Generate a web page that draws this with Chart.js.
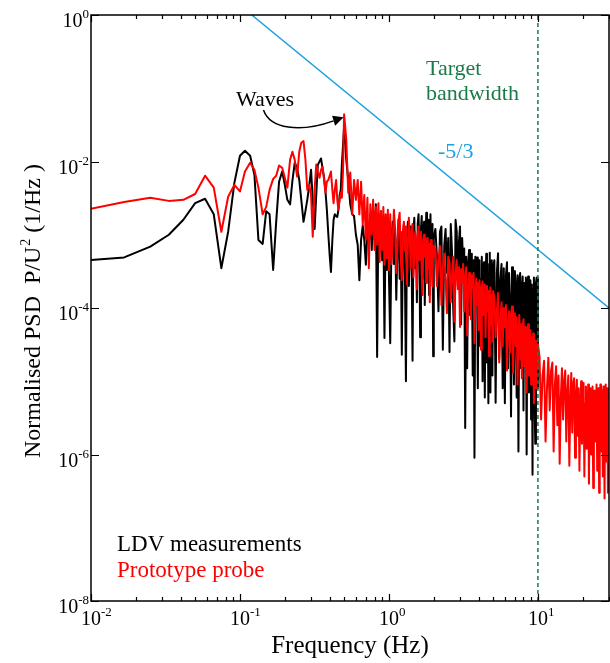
<!DOCTYPE html>
<html>
<head>
<meta charset="utf-8">
<title>Normalised PSD</title>
<script src="https://cdn.jsdelivr.net/npm/chart.js@4.4.0/dist/chart.umd.min.js"></script>
<style>
    html, body { margin: 0; padding: 0; background: #fff; }
    #wrap { width: 610px; height: 663px; }
</style>
</head>
<body>
<div id="wrap"><canvas id="psdChart" width="610" height="663"></canvas></div>
<script>
// Frequencies (Hz) shared by both spectra
const freqHz = [
    0.00833, 0.0167, 0.025, 0.0333, 0.0417, 0.05, 0.0583, 0.0667, 0.075, 0.0833,
    0.0917, 0.1, 0.108, 0.117, 0.125, 0.133, 0.142, 0.15, 0.158, 0.167,
    0.175, 0.183, 0.192, 0.2, 0.208, 0.217, 0.225, 0.233, 0.242, 0.25,
    0.258, 0.267, 0.275, 0.283, 0.292, 0.3, 0.308, 0.317, 0.325, 0.333,
    0.342, 0.35, 0.358, 0.367, 0.375, 0.383, 0.392, 0.4, 0.408, 0.417,
    0.425, 0.433, 0.442, 0.45, 0.458, 0.467, 0.475, 0.483, 0.492, 0.5,
    0.517, 0.533, 0.55, 0.567, 0.583, 0.6, 0.617, 0.633, 0.65, 0.667,
    0.683, 0.7, 0.717, 0.733, 0.75, 0.767, 0.783, 0.8, 0.817, 0.833,
    0.85, 0.867, 0.883, 0.9, 0.917, 0.933, 0.95, 0.967, 0.983, 1.0,
    1.02, 1.04, 1.06, 1.08, 1.1, 1.12, 1.14, 1.16, 1.18, 1.2,
    1.22, 1.24, 1.26, 1.28, 1.3, 1.32, 1.34, 1.36, 1.38, 1.4,
    1.42, 1.44, 1.46, 1.48, 1.5, 1.52, 1.54, 1.56, 1.58, 1.6,
    1.62, 1.64, 1.66, 1.68, 1.7, 1.72, 1.74, 1.76, 1.78, 1.8,
    1.82, 1.84, 1.86, 1.88, 1.9, 1.92, 1.94, 1.96, 1.98, 2.0,
    2.05, 2.1, 2.15, 2.2, 2.25, 2.3, 2.35, 2.4, 2.45, 2.5,
    2.55, 2.6, 2.65, 2.7, 2.75, 2.8, 2.85, 2.9, 2.95, 3.0,
    3.05, 3.1, 3.15, 3.2, 3.25, 3.3, 3.35, 3.4, 3.45, 3.5,
    3.55, 3.6, 3.65, 3.7, 3.75, 3.8, 3.85, 3.9, 3.95, 4.0,
    4.05, 4.1, 4.15, 4.2, 4.25, 4.3, 4.35, 4.4, 4.45, 4.5,
    4.55, 4.6, 4.65, 4.7, 4.75, 4.8, 4.85, 4.9, 4.95, 5.0,
    5.1, 5.2, 5.3, 5.4, 5.5, 5.6, 5.7, 5.8, 5.9, 6.0,
    6.1, 6.2, 6.3, 6.4, 6.5, 6.6, 6.7, 6.8, 6.9, 7.0,
    7.1, 7.2, 7.3, 7.4, 7.5, 7.6, 7.7, 7.8, 7.9, 8.0,
    8.1, 8.2, 8.3, 8.4, 8.5, 8.6, 8.7, 8.8, 8.9, 9.0,
    9.1, 9.2, 9.3, 9.4, 9.5, 9.6, 9.7, 9.8, 9.9, 10.0,
    10.25, 10.5, 10.75, 11, 11.25, 11.5, 11.75, 12, 12.25, 12.5,
    12.75, 13, 13.25, 13.5, 13.75, 14, 14.25, 14.5, 14.75, 15,
    15.25, 15.5, 15.75, 16, 16.25, 16.5, 16.75, 17, 17.25, 17.5,
    17.75, 18, 18.25, 18.5, 18.75, 19, 19.25, 19.5, 19.75, 20,
    20.25, 20.5, 20.75, 21, 21.25, 21.5, 21.75, 22, 22.25, 22.5,
    22.75, 23, 23.25, 23.5, 23.75, 24, 24.25, 24.5, 24.75, 25,
    25.25, 25.5, 25.75, 26, 26.25, 26.5, 26.75, 27, 27.25, 27.5,
    27.75, 28, 28.25, 28.5, 28.75, 29, 29.25, 29.5, 29.75, 30
];

// LDV measurements (stops at 10 Hz)
const ldvPsd = [
    4.4e-4, 4.9e-4, 6.9e-4, 1.0e-3, 1.6e-3, 2.7e-3, 3.1e-3, 1.9e-3, 3.5e-4, 1.1e-3,
    5.1e-3, 1.2e-2, 1.4e-2, 1.2e-2, 6.6e-3, 8.5e-4, 7.5e-4, 2.1e-3, 1.9e-3, 3.3e-4,
    1.5e-3, 5.3e-3, 7.3e-3, 4.8e-3, 3.0e-3, 2.6e-3, 5.5e-3, 9.6e-3, 8.2e-3, 5.6e-3,
    3.0e-3, 1.5e-3, 2.1e-3, 3.0e-3, 4.8e-3, 7.7e-3, 3.0e-3, 1.2e-3, 3.5e-3, 9.0e-3,
    1.0e-2, 1.1e-2, 8.2e-3, 6.0e-3, 3.9e-3, 2.2e-3, 1.0e-3, 5.3e-4, 3.1e-4, 8.5e-4,
    1.6e-3, 1.9e-3, 1.8e-3, 1.75e-3, 2.2e-3, 3.5e-3, 4.1e-3, 9.0e-3, 1.7e-2, 3.0e-2,
    1.06e-2, 5.6e-3, 2.6e-3, 1.9e-3, 1.8e-3, 1.0e-3, 7.3e-4, 2.4e-4, 8.5e-4, 1.33e-3,
    8.5e-4, 3.9e-4, 1.17e-3, 7.3e-4, 1.9e-3, 6.2e-4, 2.2e-3, 8.5e-4, 2.6e-3, 2.15e-5,
    1.9e-3, 6.2e-4, 2.1e-3, 4.5e-4, 1.6e-3, 3.9e-5, 1.37e-3, 3.3e-4, 1.6e-3, 2.8e-4,
    3.3e-5, 9.0e-4, 1.5e-3, 4.0e-4, 1.2e-3, 1.3e-4, 7.0e-4, 1.6e-3, 2.5e-4, 1.1e-3,
    2.3e-5, 8.0e-4, 1.4e-3, 3.0e-4, 1.0e-5, 9.0e-4, 1.5e-3, 2.0e-4, 6.0e-4, 1.3e-3,
    4.5e-4, 1.9e-5, 1.1e-3, 1.7e-3, 3.5e-4, 8.0e-4, 1.2e-4, 1.4e-3, 1.9e-3, 6.0e-4,
    4.0e-5, 1.2e-3, 1.8e-3, 2.5e-4, 9.0e-4, 1.5e-3, 1.1e-4, 7.0e-4, 2.0e-3, 4.0e-4,
    1.3e-3, 1.6e-3, 1.5e-4, 8.0e-4, 1.9e-3, 3.0e-4, 1.1e-3, 1.4e-3, 2.2e-5, 9.0e-4,
    1.2e-3, 5.0e-4, 9.0e-5, 1.1e-3, 1.3e-3, 2.7e-5, 7.0e-4, 1.2e-3, 3.0e-4, 9.0e-4,
    2.5e-5, 1.4e-3, 6.0e-4, 1.0e-4, 3.5e-5, 1.6e-3, 1.1e-3, 2.0e-4, 8.0e-4, 1.3e-3,
    6.0e-5, 9.0e-4, 4.0e-4, 6.5e-4, 2.3e-6, 5.0e-4, 1.5e-5, 4.0e-4, 6.2e-4, 8.0e-5,
    3.0e-4, 5.5e-4, 1.2e-5, 4.5e-4, 9.0e-7, 5.0e-4, 2.0e-4, 4.9e-4, 8.0e-6, 3.5e-4,
    4.5e-4, 3.0e-5, 2.5e-4, 5.0e-4, 1.0e-5, 3.8e-4, 4.2e-4, 6.0e-6, 2.0e-4, 5.5e-4,
    1.8e-5, 4.0e-4, 5.0e-6, 3.0e-4, 5.7e-4, 7.0e-6, 2.5e-4, 4.5e-4, 1.2e-5, 3.5e-4,
    4.5e-4, 5.1e-6, 3.0e-4, 5.6e-4, 2.0e-5, 2.5e-4, 4.0e-4, 8.0e-6, 3.5e-4, 5.0e-6,
    2.8e-4, 4.2e-4, 1.5e-5, 3.0e-4, 1.2e-4, 3.3e-6, 3.6e-4, 2.2e-4, 9.0e-6, 3.2e-4,
    2.0e-4, 6.0e-6, 2.8e-4, 1.1e-6, 2.4e-4, 3.0e-4, 1.5e-5, 1.8e-4, 2.7e-4, 4.0e-6,
    2.2e-4, 1.0e-4, 2.6e-4, 1.0e-6, 2.0e-4, 2.7e-4, 7.0e-6, 1.5e-4, 2.4e-4, 3.0e-6,
    2.1e-4, 5.3e-7, 1.8e-4, 2.6e-4, 5.0e-6, 1.4e-6, 2.2e-4, 2.6e-4, 8.0e-6, 2.6e-4
];

// Prototype probe
const probePsd = [
    2.1e-3, 2.8e-3, 3.2e-3, 2.9e-3, 3.0e-3, 3.6e-3, 6.4e-3, 4.4e-3, 1.1e-3, 3.3e-3,
    4.8e-3, 3.9e-3, 7.3e-3, 9.6e-3, 7.7e-3, 4.4e-3, 1.9e-3, 2.4e-3, 4.1e-3, 5.8e-3,
    6.4e-3, 8.8e-3, 8.2e-3, 6.0e-3, 4.4e-3, 1.06e-2, 1.36e-2, 1.06e-2, 6.2e-3, 1.36e-2,
    1.8e-2, 1.9e-2, 1.06e-2, 4.1e-3, 4.8e-3, 3.5e-3, 9.4e-4, 4.1e-3, 9.1e-3, 7.3e-3,
    6.0e-3, 7.7e-3, 8.5e-3, 5.6e-3, 3.75e-3, 5.3e-3, 5.6e-3, 6.4e-3, 7.3e-3, 4.1e-3,
    2.7e-3, 4.1e-3, 5.6e-3, 3.0e-3, 2.2e-3, 3.0e-3, 3.75e-3, 3.2e-3, 7.7e-3, 4.4e-2,
    2.0e-2, 3.75e-3, 7.1e-3, 1.9e-3, 5.6e-3, 3.0e-3, 5.6e-3, 1.9e-3, 5.3e-3, 1.37e-3,
    3.5e-3, 8.5e-4, 3.2e-3, 3.5e-4, 2.6e-3, 1.0e-3, 3.0e-3, 6.2e-4, 2.4e-3, 7.3e-4,
    2.7e-3, 4.25e-4, 2.1e-3, 6.2e-4, 2.4e-3, 3.9e-4, 1.9e-3, 4.8e-4, 2.2e-3, 3.3e-4,
    1.9e-3, 4.0e-4, 9.0e-4, 2.2e-3, 1.2e-3, 3.0e-4, 6.5e-4, 1.6e-3, 2.0e-3, 5.0e-4,
    2.4e-4, 1.1e-3, 1.5e-3, 6.0e-4, 1.3e-3, 2.1e-4, 7.5e-4, 1.7e-3, 9.0e-4, 3.5e-4,
    1.2e-3, 1.4e-3, 2.6e-4, 5.5e-4, 1.1e-3, 8.0e-4, 1.8e-4, 9.5e-4, 1.3e-3, 4.5e-4,
    7.0e-4, 1.1e-3, 3.0e-4, 1.5e-4, 8.5e-4, 1.0e-3, 5.0e-4, 9.0e-4, 2.2e-4, 6.5e-4,
    9.0e-4, 3.5e-4, 7.5e-4, 1.2e-4, 5.5e-4, 8.5e-4, 4.0e-4, 2.0e-4, 7.0e-4, 5.0e-4,
    6.5e-4, 2.0e-4, 4.5e-4, 7.0e-4, 1.1e-4, 3.5e-4, 5.5e-4, 2.5e-4, 8.5e-5, 5.0e-4,
    4.2e-4, 1.2e-4, 2.8e-4, 5.0e-4, 6.5e-5, 3.0e-4, 4.5e-4, 1.8e-4, 3.6e-4, 5.5e-5,
    3.4e-4, 2.2e-4, 4.0e-4, 9.0e-5, 2.6e-4, 3.6e-4, 4.2e-5, 1.6e-4, 3.0e-4, 2.0e-4,
    7.0e-5, 2.8e-4, 1.9e-4, 3.0e-4, 3.3e-5, 1.4e-4, 2.5e-4, 1.1e-4, 2.2e-4, 5.0e-5,
    2.4e-4, 1.5e-4, 2.7e-5, 1.9e-4, 2.3e-4, 8.0e-5, 1.6e-4, 2.1e-4, 4.0e-5, 1.3e-4,
    2.0e-4, 9.0e-5, 1.7e-4, 2.2e-5, 1.2e-4, 1.9e-4, 6.0e-5, 1.5e-4, 3.5e-5, 1.7e-4,
    1.4e-4, 4.0e-5, 9.0e-5, 1.6e-4, 1.8e-5, 7.0e-5, 1.2e-4, 3.0e-5, 1.0e-4, 5.5e-5,
    1.1e-4, 1.4e-5, 6.0e-5, 9.0e-5, 2.5e-5, 8.0e-5, 1.05e-4, 1.3e-5, 5.0e-5, 8.5e-5,
    3.0e-5, 7.5e-5, 9.0e-6, 4.5e-5, 8.0e-5, 2.0e-5, 6.0e-5, 1.1e-5, 5.5e-5, 7.0e-5,
    1.6e-5, 5.5e-5, 3.5e-5, 7.0e-6, 4.5e-5, 6.0e-5, 1.2e-5, 3.0e-5, 5.0e-5, 9.0e-6,
    4.0e-5, 2.2e-5, 4.5e-5, 5.0e-6, 2.8e-5, 3.6e-5, 8.0e-6, 3.0e-5, 1.5e-5, 3.2e-5,
    2.2e-5, 3.0e-6, 1.2e-5, 1.9e-5, 1.5e-6, 8.0e-6, 2.1e-5, 4.0e-6, 1.4e-5, 1.8e-5,
    1.1e-6, 9.0e-6, 1.6e-5, 2.5e-6, 1.2e-5, 7.5e-7, 6.0e-6, 1.5e-5, 3.0e-6, 1.0e-5,
    1.4e-5, 1.5e-6, 7.0e-6, 1.2e-5, 7.0e-7, 5.0e-6, 1.3e-5, 2.0e-6, 9.0e-6, 1.1e-5,
    9.0e-7, 6.0e-6, 1.05e-5, 1.8e-6, 8.0e-6, 6.0e-7, 4.5e-6, 1.0e-5, 1.4e-6, 7.5e-6,
    9.5e-6, 5.0e-7, 5.0e-6, 8.5e-6, 1.2e-6, 3.0e-6, 9.0e-6, 4.0e-7, 6.5e-6, 8.0e-6,
    1.0e-6, 4.0e-6, 8.5e-6, 3.5e-7, 6.0e-6, 7.5e-6, 1.5e-6, 3.5e-6, 9.0e-6, 6.0e-7,
    7.0e-6, 8.0e-6, 3.0e-7, 5.0e-6, 9.0e-6, 1.1e-6, 4.0e-6, 7.5e-6, 5.0e-7, 8.5e-6,
    6.0e-6, 2.5e-7, 4.5e-6, 9.0e-6, 8.0e-7, 5.5e-6, 8.0e-6, 3.0e-7, 7.0e-6, 1.2e-6
];

// -5/3 reference slope and target bandwidth marker
const slopeFreq = [0.12, 30];
const slopePsd = [1.0, 1.0e-4];
const targetFreq = [10, 10];
const targetPsd = [1e-8, 1];

// Axis ticks
const xTickValues = [0.01, 0.1, 1, 10];
const xTickExps = ['-2', '-1', '0', '1'];
const yTickValues = [1, 1e-2, 1e-4, 1e-6, 1e-8];
const yTickExps = ['0', '-2', '-4', '-6', '-8'];

const SERIF = "'Liberation Serif', 'Times New Roman', serif";
const RED = '#ff0000';
const BLUE = '#1da1e0';
const GREEN = '#1a7a48';

const toPoints = (xs, ys) => ys.map((v, i) => ({ x: xs[i], y: v }));

function drawPower(ctx, exp, x, y, align) {
    ctx.font = `20px ${SERIF}`;
    const baseW = ctx.measureText('10').width;
    ctx.font = `13px ${SERIF}`;
    const expW = ctx.measureText(exp).width;
    let left;
    if (align === 'right') left = x - baseW - expW;
    else left = x - baseW / 2;
    ctx.textAlign = 'left';
    ctx.textBaseline = 'alphabetic';
    ctx.font = `20px ${SERIF}`;
    ctx.fillText('10', left, y);
    ctx.font = `13px ${SERIF}`;
    ctx.fillText(exp, left + baseW, y - 9);
}

const psdDecorations = {
    id: 'psdDecorations',
    afterDatasetsDraw(chart) {
        const { ctx, chartArea: area, scales: { x, y } } = chart;
        ctx.save();
        ctx.strokeStyle = '#000';
        ctx.lineWidth = 1.2;
        ctx.beginPath();
        // x ticks, bottom and top
        for (let e = -2; e <= 1; e++) {
            for (let m = 1; m <= 9; m++) {
                const v = m * Math.pow(10, e);
                if (v < 0.01 || v > 30) continue;
                const px = Math.round(x.getPixelForValue(v)) + 0.5;
                const len = m === 1 ? 7 : 4;
                ctx.moveTo(px, area.bottom);
                ctx.lineTo(px, area.bottom - len);
                ctx.moveTo(px, area.top);
                ctx.lineTo(px, area.top + len);
            }
        }
        // y ticks, left and right
        yTickValues.forEach(v => {
            const py = Math.round(y.getPixelForValue(v)) + 0.5;
            ctx.moveTo(area.left, py);
            ctx.lineTo(area.left + 8, py);
            ctx.moveTo(area.right, py);
            ctx.lineTo(area.right - 8, py);
        });
        ctx.stroke();

        ctx.lineWidth = 1.5;
        ctx.strokeRect(area.left, area.top, area.right - area.left, area.bottom - area.top);
        ctx.restore();
    },
    afterDraw(chart) {
        const { ctx, chartArea: area, scales: { x, y } } = chart;
        ctx.save();
        ctx.fillStyle = '#000';

        // tick labels
        xTickValues.forEach((v, i) => {
            drawPower(ctx, xTickExps[i], x.getPixelForValue(v), area.bottom + 24, 'center');
        });
        yTickValues.forEach((v, i) => {
            drawPower(ctx, yTickExps[i], area.left - 2, y.getPixelForValue(v) + 12, 'right');
        });

        // axis titles
        ctx.font = `25px ${SERIF}`;
        ctx.textAlign = 'center';
        ctx.fillText('Frequency (Hz)', (area.left + area.right) / 2, 653);

        ctx.save();
        ctx.translate(40, 458);
        ctx.rotate(-Math.PI / 2);
        ctx.textAlign = 'left';
        ctx.font = `24px ${SERIF}`;
        const part1 = 'Normalised PSD  P/U';
        ctx.fillText(part1, 0, 0);
        let off = ctx.measureText(part1).width;
        ctx.font = `14px ${SERIF}`;
        ctx.fillText('2', off + 1, -10);
        off += ctx.measureText('2').width + 1;
        ctx.font = `24px ${SERIF}`;
        ctx.fillText(' (1/Hz )', off, 0);
        ctx.restore();

        // annotations
        ctx.textAlign = 'left';
        ctx.font = `22px ${SERIF}`;
        ctx.fillStyle = '#000';
        ctx.fillText('Waves', 236, 106);
        ctx.fillStyle = GREEN;
        ctx.fillText('Target', 426, 75);
        ctx.fillText('bandwidth', 426, 99.5);
        ctx.fillStyle = BLUE;
        ctx.fillText('-5/3', 438, 158);

        // legend
        ctx.font = `23px ${SERIF}`;
        ctx.fillStyle = '#000';
        ctx.fillText('LDV measurements', 117, 551);
        ctx.fillStyle = RED;
        ctx.fillText('Prototype probe', 117, 577);

        // curved arrow to the wave peak
        const tipX = x.getPixelForValue(0.5) - 0.5;
        const tipY = y.getPixelForValue(4.4e-2) + 3;
        ctx.strokeStyle = '#000';
        ctx.fillStyle = '#000';
        ctx.lineWidth = 1.5;
        ctx.beginPath();
        ctx.moveTo(263.5, 110);
        ctx.bezierCurveTo(270, 129, 300, 133, tipX - 10, tipY + 3.5);
        ctx.stroke();
        ctx.beginPath();
        ctx.moveTo(tipX, tipY);
        ctx.lineTo(tipX - 11.5, tipY - 1.5);
        ctx.lineTo(tipX - 8.5, tipY + 8.5);
        ctx.closePath();
        ctx.fill();
        ctx.restore();
    }
};

class PsdChart {
    constructor(canvasId) {
        this.canvas = document.getElementById(canvasId);
        this.chart = null;
        this.init();
    }

    init() {
        this.chart = new Chart(this.canvas, {
            type: 'line',
            data: {
                datasets: [
                    {
                        label: 'Prototype probe',
                        data: toPoints(freqHz, probePsd),
                        borderColor: RED,
                        borderWidth: 2,
                        order: 1
                    },
                    {
                        label: 'LDV measurements',
                        data: toPoints(freqHz, ldvPsd),
                        borderColor: '#000',
                        borderWidth: 2,
                        order: 2
                    },
                    {
                        label: '-5/3',
                        data: toPoints(slopeFreq, slopePsd),
                        borderColor: BLUE,
                        borderWidth: 1.5,
                        order: 3
                    },
                    {
                        label: 'Target bandwidth',
                        data: toPoints(targetFreq, targetPsd),
                        borderColor: GREEN,
                        borderWidth: 1.5,
                        borderDash: [4, 3],
                        order: 0
                    }
                ]
            },
            options: {
                responsive: false,
                animation: false,
                events: [],
                layout: { padding: { left: 91, right: 1, top: 15, bottom: 62 } },
                elements: {
                    point: { radius: 0 },
                    line: { tension: 0, borderJoinStyle: 'round', fill: false }
                },
                plugins: {
                    legend: { display: false },
                    tooltip: { enabled: false }
                },
                scales: {
                    x: {
                        type: 'logarithmic',
                        min: 0.01,
                        max: 30,
                        ticks: { display: false },
                        grid: { display: false },
                        border: { display: false },
                        afterFit: (scale) => { scale.height = 0; }
                    },
                    y: {
                        type: 'logarithmic',
                        min: 1e-8,
                        max: 1,
                        ticks: { display: false },
                        grid: { display: false },
                        border: { display: false },
                        afterFit: (scale) => { scale.width = 0; }
                    }
                }
            },
            plugins: [psdDecorations]
        });
    }
}

document.addEventListener('DOMContentLoaded', () => {
    new PsdChart('psdChart');
});
</script>
</body>
</html>
